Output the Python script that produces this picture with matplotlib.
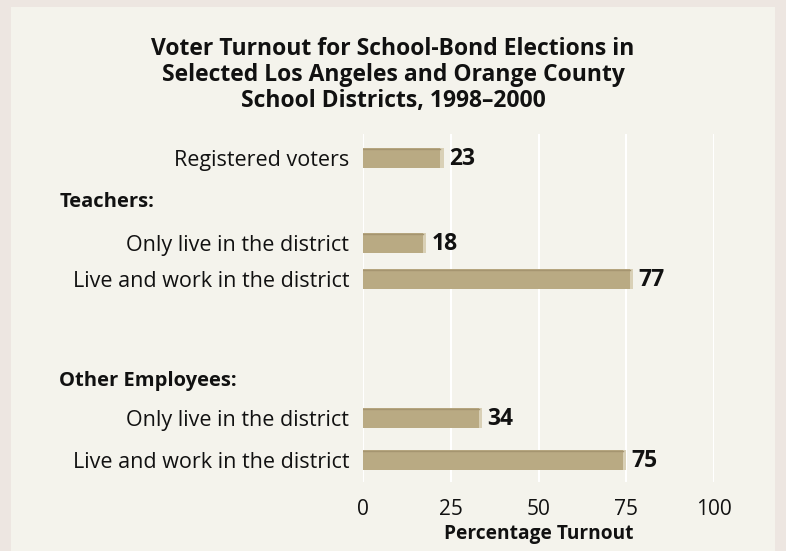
import matplotlib.pyplot as plt
from matplotlib.patches import Rectangle

# data
labels = ["Registered voters", "Only live in the district", "Live and work in the district",
          "Only live in the district", "Live and work in the district"]
values = [23, 18, 77, 34, 75]
groups = ["Teachers:", "Other Employees:"]
ticks = [0, 25, 50, 75, 100]

plt.rcParams['font.family'] = ['Open Sans', 'DejaVu Sans']

fig = plt.figure(figsize=(7.86, 5.51), dpi=100)
fig.patch.set_facecolor("#ede6e1")
fig.patches.append(Rectangle((11/786, 0), 764/786, 544/551, transform=fig.transFigure,
                             facecolor="#f4f3ec", edgecolor="none", zorder=-5))

ax = fig.add_axes([363/786, 69/551, 351/786, 348/551])
ax.set_facecolor("none")
ax.set_zorder(2)

# vertical layout (pixel-like units, top to bottom)
bar_y = [158, 243, 279, 418, 460]
group_y = [202, 381]
bar_h = 20

ax.set_xlim(0, 100)
ax.set_ylim(482, 134)

for x in ticks:
    ax.axvline(x, color="white", lw=1.5, zorder=1)

for y, v in zip(bar_y, values):
    ax.barh(y, v - 1.0, height=bar_h, color="#b9aa83", zorder=2)
    ax.barh(y, 1.0, left=v - 1.0, height=bar_h, color="#d9d0b6", zorder=2)
    ax.plot([0, v - 1.0], [y - bar_h / 2 + 0.6] * 2, color="#a59570", lw=1, zorder=3)
    ax.text(v + 1.5, y + 1, str(v), va="center", ha="left", fontsize=16.5,
            fontweight="bold", color="#111111")

ax.set_yticks(bar_y)
ax.set_yticklabels(labels, fontsize=15.5, color="#111111")
ax.tick_params(axis="y", length=0, pad=10)
ax.set_xticks(ticks)
ax.set_xticklabels([str(t) for t in ticks], fontsize=15, color="#111111")
ax.tick_params(axis="x", length=0, pad=12)
for s in ax.spines.values():
    s.set_visible(False)

for g, y in zip(groups, group_y):
    ax.text(-86.5, y, g, va="center", ha="left", fontsize=14.5, fontweight="bold",
            color="#111111", transform=ax.transData, clip_on=False)

ax.set_xlabel("Percentage Turnout", fontsize=13.8, fontweight="bold", color="#111111", labelpad=3)

fig.text(393/786, 1 - 75/551,
         "Voter Turnout for School-Bond Elections in\nSelected Los Angeles and Orange County\nSchool Districts, 1998\u20132000",
         ha="center", va="center", fontsize=16.5, fontweight="bold", color="#111111",
         linespacing=1.13)

fig.savefig("out.png", dpi=100, facecolor=fig.get_facecolor())
